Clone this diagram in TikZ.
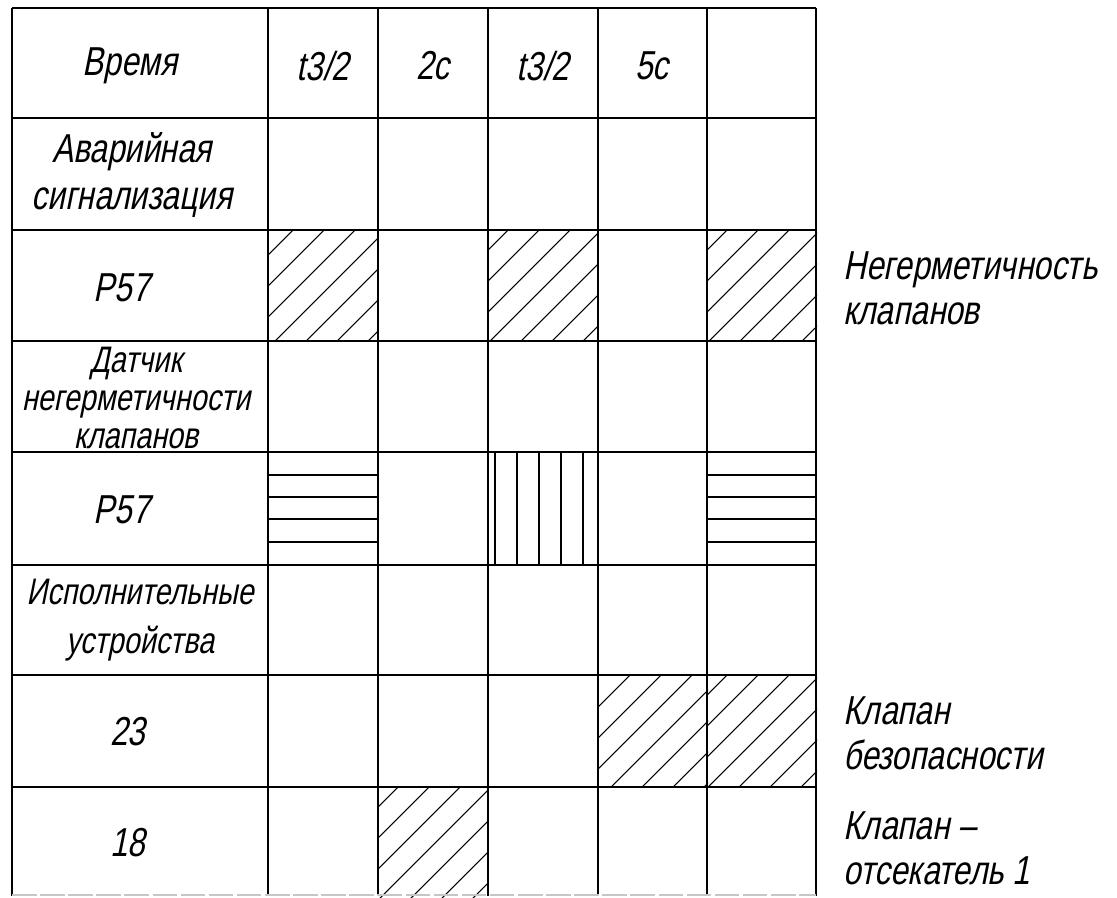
\documentclass[tikz,border=0pt]{standalone}
\usepackage{fontspec}
\setmainfont{Liberation Sans}[FakeSlant=0.2,FakeStretch=0.78]
\usepackage{tikz}

\tikzset{
  gridline/.style={line width=1.6pt},
  hatchline/.style={line width=0.6pt},
  cell/.style={font=\fontsize{23}{27}\selectfont, align=center, inner sep=0pt},
  tightcell/.style={font=\fontsize{21}{21.5}\selectfont, align=center, inner sep=0pt},
  note/.style={font=\fontsize{23}{25.5}\selectfont, align=left, anchor=west, inner sep=0pt}
}

\begin{document}
\begin{tikzpicture}[x=0.02cm,y=-0.02cm]
\useasboundingbox (0,0) rectangle (1117,897);
% diagonal hatching
\foreach \cx/\cy/\off in {268/230/25,488/230/20,707/230/20,598/675/32,707/675/20,378/787/20}{
  \begin{scope}
    \clip (\cx,\cy) rectangle ++(110,111);
    \foreach \k in {-1,...,7}
      \draw[hatchline] ({\cx+\off+\k*31+20},{\cy-20}) -- ++(-180,180);
  \end{scope}
}
% horizontal hatching
\foreach \cx in {268,707}
  \foreach \dy in {23,45,67,90}
    \draw[hatchline] (\cx,452+\dy) -- ++(110,0);
% vertical hatching
\foreach \dx in {7,29,51,73,95}
  \draw[hatchline] (488+\dx,452) -- ++(0,113);
% table
\foreach \x in {12,268,378,488,598,707,816}
  \draw[gridline] (\x,8) -- (\x,896);
\foreach \y in {8,118,230,341,452,565,675,787}
  \draw[gridline] (12,\y) -- (816,\y);
\draw[gray!45, line width=1pt, dash pattern=on 14pt off 2pt] (12,895) -- (816,895);
% header row
\node[cell] (time) at (130,66) {Время};
\node[cell] (ta) at (323,66) {t3/2};
\node[cell] (tb) at (433,66) {2с};
\node[cell] (tc) at (543,66) {t3/2};
\node[cell] (td) at (652,66) {5с};
% row labels
\node[cell] (alarm) at (132,175) {Аварийная\\сигнализация};
\node[cell] (pa) at (122,288) {P57};
\node[tightcell] (sensor) at (136,398) {Датчик\\негерметичности\\клапанов};
\node[cell] (pb) at (122,510) {P57};
\node[cell, font=\fontsize{21}{28}\selectfont] (actor) at (140,620) {Исполнительные\\устройства};
\node[cell] (va) at (128,732) {23};
\node[cell] (vb) at (128,843) {18};
% notes on the right
\node[note] (leak) at (843,288) {Негерметичность\\клапанов};
\node[note] (safety) at (843,733) {Клапан\\безопасности};
\node[note] (shutoff) at (843,848) {Клапан –\\отсекатель 1};
\end{tikzpicture}
\end{document}
